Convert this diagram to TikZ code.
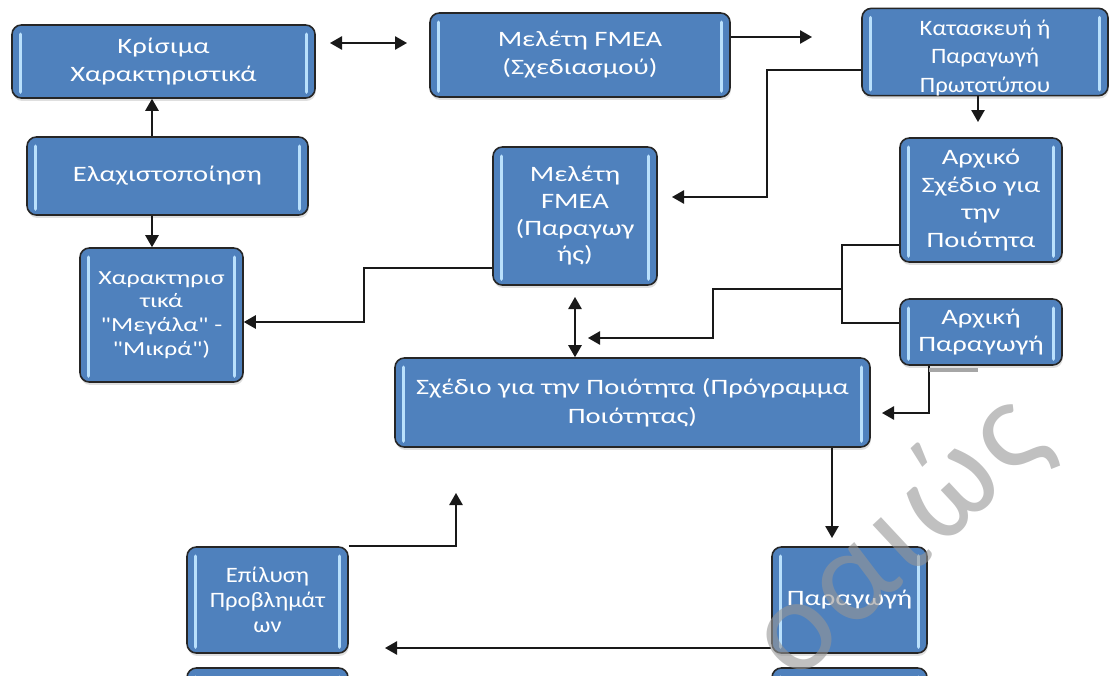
\documentclass[tikz,border=0pt]{standalone}
\usepackage{fontspec}
\newfontfamily\boxfont[FakeStretch=1.3]{Carlito}
\newfontfamily\midfont[FakeStretch=1.12]{Carlito}
\newfontfamily\plainfont{Carlito}
\usetikzlibrary{arrows.meta,shadows}
\definecolor{boxblue}{RGB}{79,129,189}
\definecolor{barblue}{RGB}{185,224,252}
\definecolor{wmgray}{RGB}{150,150,150}

\begin{document}
\begin{tikzpicture}[x=0.75pt,y=-0.75pt,
  box/.style={draw=black!85, line width=1.2pt, fill=boxblue, rounded corners=7pt,
    text=white, align=center, inner sep=0pt,
    drop shadow={shadow xshift=0.6pt, shadow yshift=-2.2pt, opacity=0.25},
    font=\boxfont\fontsize{16.5}{21}\selectfont},
  hl/.style={barblue, line width=2.6pt, line cap=round},
  conn/.style={draw=black!90, line width=1.2pt},
  arr/.style={conn, -{Triangle[length=9pt,width=10pt]}},
  darr/.style={conn, {Triangle[length=9pt,width=10pt]}-{Triangle[length=9pt,width=10pt]}},
]
\useasboundingbox (0,0) rectangle (1113,675);

% boxes
\node[box, minimum width=227.25pt, minimum height=54.75pt] (krit) at (163.5,61.5) {Κρίσιμα\\Χαρακτηριστικά};
\node[box, minimum width=210.75pt, minimum height=58.5pt] (elax) at (167.5,176) {Ελαχιστοποίηση};
\node[box, minimum width=225pt, minimum height=63pt] (fmeaS) at (580,55) {Μελέτη FMEA\\(Σχεδιασμού)};
\node[box, minimum width=184.5pt, minimum height=60pt, font=\midfont\fontsize{16.5}{21.4}\selectfont] (kat) at (985,52) {\rule{0pt}{20pt}Κατασκευή ή\\Παραγωγή\\Πρωτοτύπου};
\node[box, minimum width=123pt, minimum height=103.5pt, font=\boxfont\fontsize{16.5}{20}\selectfont] (fmeaP) at (575,216) {Μελέτη\\FMEA\\(Παραγωγ\\ής)};
\node[box, minimum width=121.5pt, minimum height=93pt, font=\boxfont\fontsize{16.5}{20.8}\selectfont] (arxS) at (981,200) {Αρχικό\\Σχέδιο για\\την\\Ποιότητα};
\node[box, minimum width=121.5pt, minimum height=49.5pt, font=\boxfont\fontsize{16.5}{20.3}\selectfont] (arxP) at (981,332) {Αρχική\\Παραγωγή};
\node[box, minimum width=122.25pt, minimum height=100.5pt, font=\boxfont\fontsize{15}{17.8}\selectfont] (xar) at (161.5,315) {Χαρακτηρισ\\τικά\\"Μεγάλα" -\\"Μικρά")};
\node[box, minimum width=356.25pt, minimum height=66.75pt, font=\boxfont\fontsize{16.5}{21.8}\selectfont] (sxed) at (632.5,402.5) {Σχέδιο για την Ποιότητα (Πρόγραμμα\\Ποιότητας)};
\node[box, minimum width=120.75pt, minimum height=79.5pt, font=\midfont\fontsize{16.5}{18.8}\selectfont] (epil) at (267.5,600) {Επίλυση\\Προβλημάτ\\ων};
\node[box, minimum width=116.25pt, minimum height=79.5pt] (parag) at (849.5,600) {Παραγωγή};
\node[box, minimum width=120.75pt, minimum height=79.5pt] (nextL) at (267.5,721) {};
\node[box, minimum width=116.25pt, minimum height=79.5pt] (nextR) at (849.5,721) {};

% glossy side bars
\foreach \n in {krit,elax,fmeaS,kat,fmeaP,arxS,arxP,xar,sxed,epil,parag,nextL,nextR}{
  \draw[hl] ([xshift=7pt,yshift=-7.5pt]\n.north west) -- ([xshift=7pt,yshift=5pt]\n.south west);
  \draw[hl] ([xshift=-7pt,yshift=-7.5pt]\n.north east) -- ([xshift=-7pt,yshift=5pt]\n.south east);
}

% helper points for connectors
\coordinate (xL) at (152,0);
\coordinate (dA) at (330,43);
\coordinate (dB) at (407,43);
\coordinate (toKat) at (812,37);
\coordinate (kb1) at (767,70);
\coordinate (kb2) at (672,197);
\coordinate (katDown) at (978,122);
\coordinate (bTop) at (842,245);
\coordinate (bBot) at (842,323);
\coordinate (bMid) at (842,289);
\coordinate (bElbow) at (713,289);
\coordinate (bTip) at (588,338);
\coordinate (fsTop) at (575,297);
\coordinate (fxE) at (364,268);
\coordinate (fxT) at (364,322);
\coordinate (apC) at (929,413);
\coordinate (apTip) at (882,413);
\coordinate (spTip) at (832,538);
\coordinate (plTip) at (385,648);
\coordinate (euTip) at (456,493);

% connectors
\draw[darr] (dA) -- (dB);
\draw[arr] (elax.north -| xL) -- (krit.south -| xL);
\draw[arr] (elax.south -| xL) -- (xar.north -| xL);
\draw[arr] (fmeaS.east |- toKat) -- (toKat);
\draw[arr] (kat.west |- kb1) -- (kb1) |- (kb2);
\draw[arr] (kat.south -| katDown) -- (katDown);
\draw[conn] (arxS.west |- bTop) -- (bTop) -- (bBot) -- (arxP.west |- bBot);
\draw[arr] (bMid) -- (bElbow) |- (bTip);
\draw[darr] (fsTop) -- (sxed.north -| fsTop);
\draw[arr] (fmeaP.west |- fxE) -- (fxE) |- (xar.east |- fxT);
\draw[arr] (arxP.south -| apC) -- (apC) -- (apTip);
\draw[gray!70, line width=2.4pt] (929,370) -- (978,370);
\draw[arr] (sxed.south -| spTip) -- (spTip);
\draw[arr] (parag.west |- plTip) -- (plTip);
\draw[arr] (epil.north east) -| (euTip);

% watermark
\node[rotate=43, text=wmgray, opacity=0.6, anchor=base west,
  font=\plainfont\fontsize{100}{100}\selectfont\addfontfeature{LetterSpace=4}] (wm) at (792,688) {οαιώς};
\end{tikzpicture}
\end{document}
